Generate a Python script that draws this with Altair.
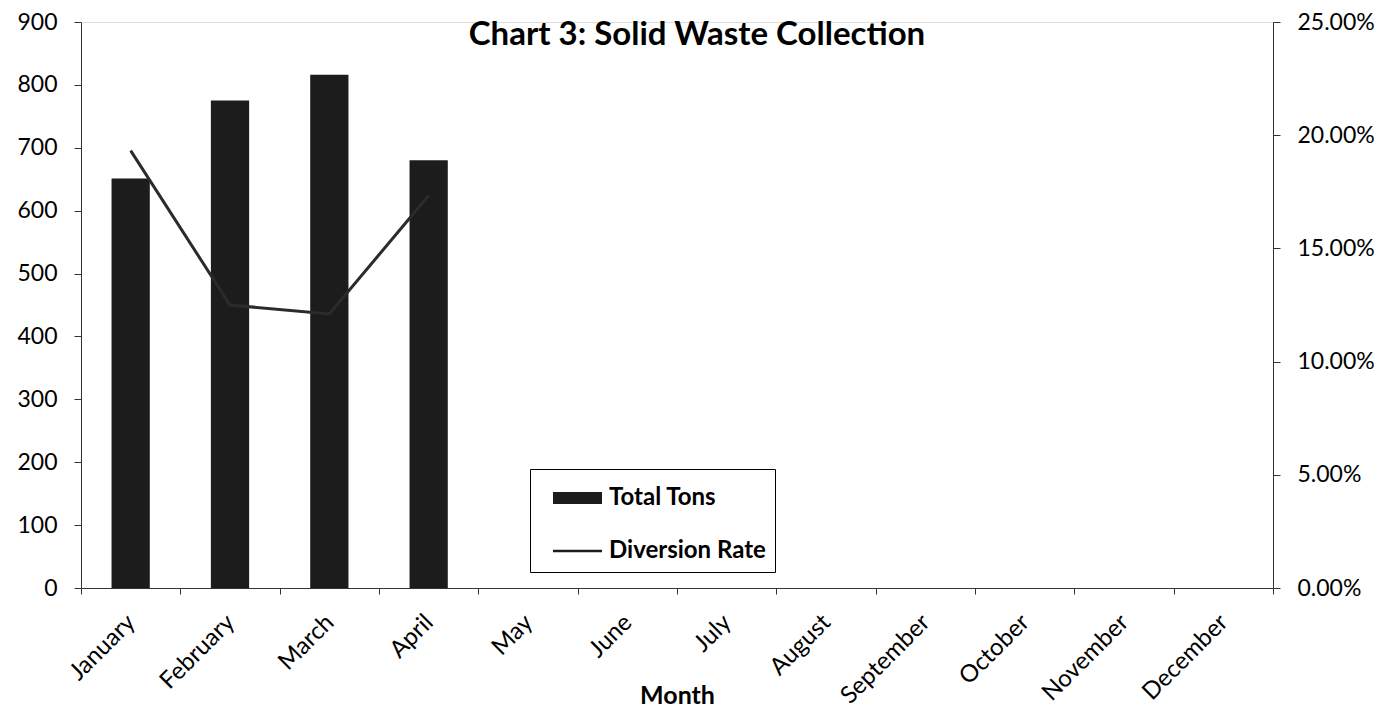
import altair as alt
import pandas as pd

# ---- data ----
chart_title = ["Chart 3: Solid Waste Collection"]
months = ["January", "February", "March", "April", "May", "June", "July",
          "August", "September", "October", "November", "December"]
data_months = ["January", "February", "March", "April"]
total_tons = [651, 775, 816, 680]
diversion_rate = [0.1932, 0.125, 0.121, 0.1734]
legend_labels = ["Total Tons", "Diversion Rate"]
tons_ticks = [0, 100, 200, 300, 400, 500, 600, 700, 800, 900]
rate_ticks = [0, 0.05, 0.10, 0.15, 0.20, 0.25]

df = pd.DataFrame({"Month": data_months, "Tons": total_tons, "Rate": diversion_rate})
title_df = pd.DataFrame({"t": chart_title})

FONT = "Lato"
INK = "#1c1c1c"
AXIS_COL = "#333333"

x_enc = alt.X(
    "Month:N",
    scale=alt.Scale(domain=months, paddingInner=0, paddingOuter=0),
    axis=alt.Axis(
        title="Month", titleFont=FONT, titleFontSize=25, titleFontWeight="bold",
        titleColor="black", titleY=115, titleBaseline="alphabetic",
        labelAngle=-45, labelAlign="right", labelBaseline="top",
        labelFont=FONT, labelFontSize=24, labelColor="black",
        labelPadding=16, labelOffset=-8,
        tickBand="extent", tickSize=6, tickColor=AXIS_COL,
        domainColor=AXIS_COL, labelOverlap=False, grid=False,
    ),
)

bars = alt.Chart(df).mark_bar(width=alt.RelativeBandSize(0.385), color=INK).encode(
    x=x_enc,
    y=alt.Y(
        "Tons:Q",
        scale=alt.Scale(domain=[0, 900], nice=False),
        axis=alt.Axis(
            title=None, values=tons_ticks, grid=False, orient="left",
            labelFont=FONT, labelFontSize=23, labelColor="black",
            labelPadding=17, tickSize=7, tickColor=AXIS_COL, domainColor=AXIS_COL,
        ),
    ),
)

legend_shapes = [
    "M-0.3,-0.3H2.15V0.3H-0.3Z",
    "M-0.3,-0.06H2.15V0.06H-0.3Z",
]

legend_layer = (
    alt.Chart(df)
    .transform_calculate(series="'Total Tons'")
    .transform_filter("false")
    .mark_point(filled=True, color=INK)
    .encode(
        x=alt.X("Month:N"),
        y=alt.Y("Tons:Q"),
        shape=alt.Shape(
            "series:N",
            scale=alt.Scale(domain=legend_labels, range=legend_shapes),
            legend=alt.Legend(
                title=None, orient="none", legendX=449, legendY=447,
                strokeColor="black", fillColor="white",
                padding=9, symbolSize=1600, labelOffset=30, rowPadding=21,
                labelFont=FONT, labelFontSize=24, labelFontWeight="bold",
                labelColor="black", symbolStrokeWidth=0, symbolFillColor=INK,
                symbolOpacity=1,
            ),
        ),
    )
)

title_layer = alt.Chart(title_df).mark_text(
    font=FONT, fontSize=33, fontWeight="bold", color="black",
    align="center", baseline="alphabetic",
).encode(text="t:N", x=alt.value(616), y=alt.value(23))

line = alt.Chart(df).mark_line(color="#2b2b2b", strokeWidth=3).encode(
    x=alt.X("Month:N"),
    y=alt.Y(
        "Rate:Q",
        scale=alt.Scale(domain=[0, 0.25], nice=False),
        axis=alt.Axis(
            title=None, values=rate_ticks, format=".2%", grid=False, orient="right",
            labelFont=FONT, labelFontSize=23, labelColor="black",
            labelPadding=17, tickSize=7, tickColor=AXIS_COL, domainColor=AXIS_COL,
        ),
    ),
)

left = alt.layer(bars, legend_layer, title_layer)

chart = (
    alt.layer(left, line)
    .resolve_scale(y="independent")
    .properties(
        width=1192,
        height=566,
        autosize=alt.AutoSizeParams(type="none"),
        padding={"left": 73, "top": 14, "right": 104, "bottom": 124},
    )
    .configure_view(stroke=None)
    .configure(background="white")
)

chart.save("out.html", embed_options={"renderer": "svg", "actions": False})
